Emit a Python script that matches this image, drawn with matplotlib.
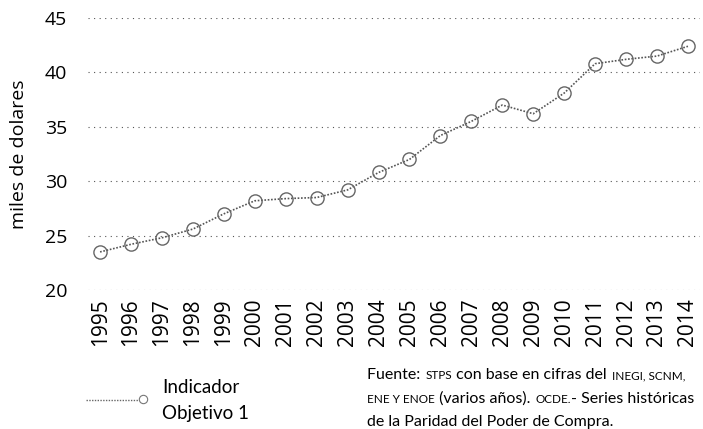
import matplotlib
matplotlib.use("Agg")
import matplotlib.pyplot as plt

plt.rcParams['font.family'] = ['Open Sans', 'DejaVu Sans']

years = list(range(1995, 2015))
valores = [23.5, 24.2, 24.8, 25.6, 27.0, 28.2, 28.4, 28.5, 29.2, 30.8,
           32.0, 34.2, 35.5, 37.0, 36.2, 38.1, 40.8, 41.2, 41.5, 42.4]
yticks = [20, 25, 30, 35, 40, 45]

fig = plt.figure(figsize=(7.03, 4.29), dpi=100)
ax = fig.add_axes([88 / 703, 1 - 290 / 429, 612 / 703, 272 / 429])

ax.plot(years, valores, color='#555555', linestyle=(0, (1, 1)), linewidth=1.2,
        marker='o', markersize=9.5, markerfacecolor='none',
        markeredgecolor='#666666', markeredgewidth=1.0, zorder=3)

ax.set_ylim(20, 45)
ax.set_xlim(1994.61, 2014.39)
ax.set_yticks(yticks)
ax.set_xticks(years)
ax.set_xticklabels([str(y) for y in years], rotation=90, fontsize=15)
ax.tick_params(axis='y', labelsize=14, length=0, pad=15)
ax.tick_params(axis='x', length=0, pad=6)
ax.grid(axis='y', color='#555555', linestyle=(0, (1, 4)), linewidth=0.8)
for s in ax.spines.values():
    s.set_visible(False)
ax.set_ylabel('miles de dolares', fontsize=14, labelpad=12)

# leyenda
fig.lines.append(plt.Line2D([86 / 703, 139 / 703], [1 - 400 / 429] * 2,
                            transform=fig.transFigure, color='#666666',
                            linestyle=(0, (1, 1)), linewidth=1.0))
fig.lines.append(plt.Line2D([143 / 703], [1 - 399 / 429], transform=fig.transFigure,
                            marker='o', markersize=6, markerfacecolor='none',
                            markeredgecolor='#777777', markeredgewidth=0.8))
fig.text(162 / 703, 1 - 393 / 429, 'Indicador', fontsize=13.5, va='baseline',
         family='Lato')
fig.text(162 / 703, 1 - 419 / 429, 'Objetivo 1', fontsize=13.5, va='baseline',
         family='Lato')

# fuente con versalitas
fuente = [
    [('Fuente: ', 11.5), ('STPS', 8.5), (' con base en cifras del ', 11.5), ('INEGI, SCNM,', 8.5)],
    [('ENE Y ENOE', 8.5), (' (varios años). ', 11.5), ('OCDE.', 8.5), ('- Series históricas', 11.5)],
    [('de la Paridad del Poder de Compra.', 11.5)],
]
base_y = [379, 403, 426]
renderer = fig.canvas.get_renderer()
for linea, yb in zip(fuente, base_y):
    x = 367
    for txt, fs in linea:
        t = fig.text(x / 703, 1 - yb / 429, txt, fontsize=fs,
                     va='baseline', ha='left', family='Lato')
        x += t.get_window_extent(renderer).width
        if txt.endswith(' '):
            x += fs * 0.1

fig.savefig('out.png', dpi=100)
